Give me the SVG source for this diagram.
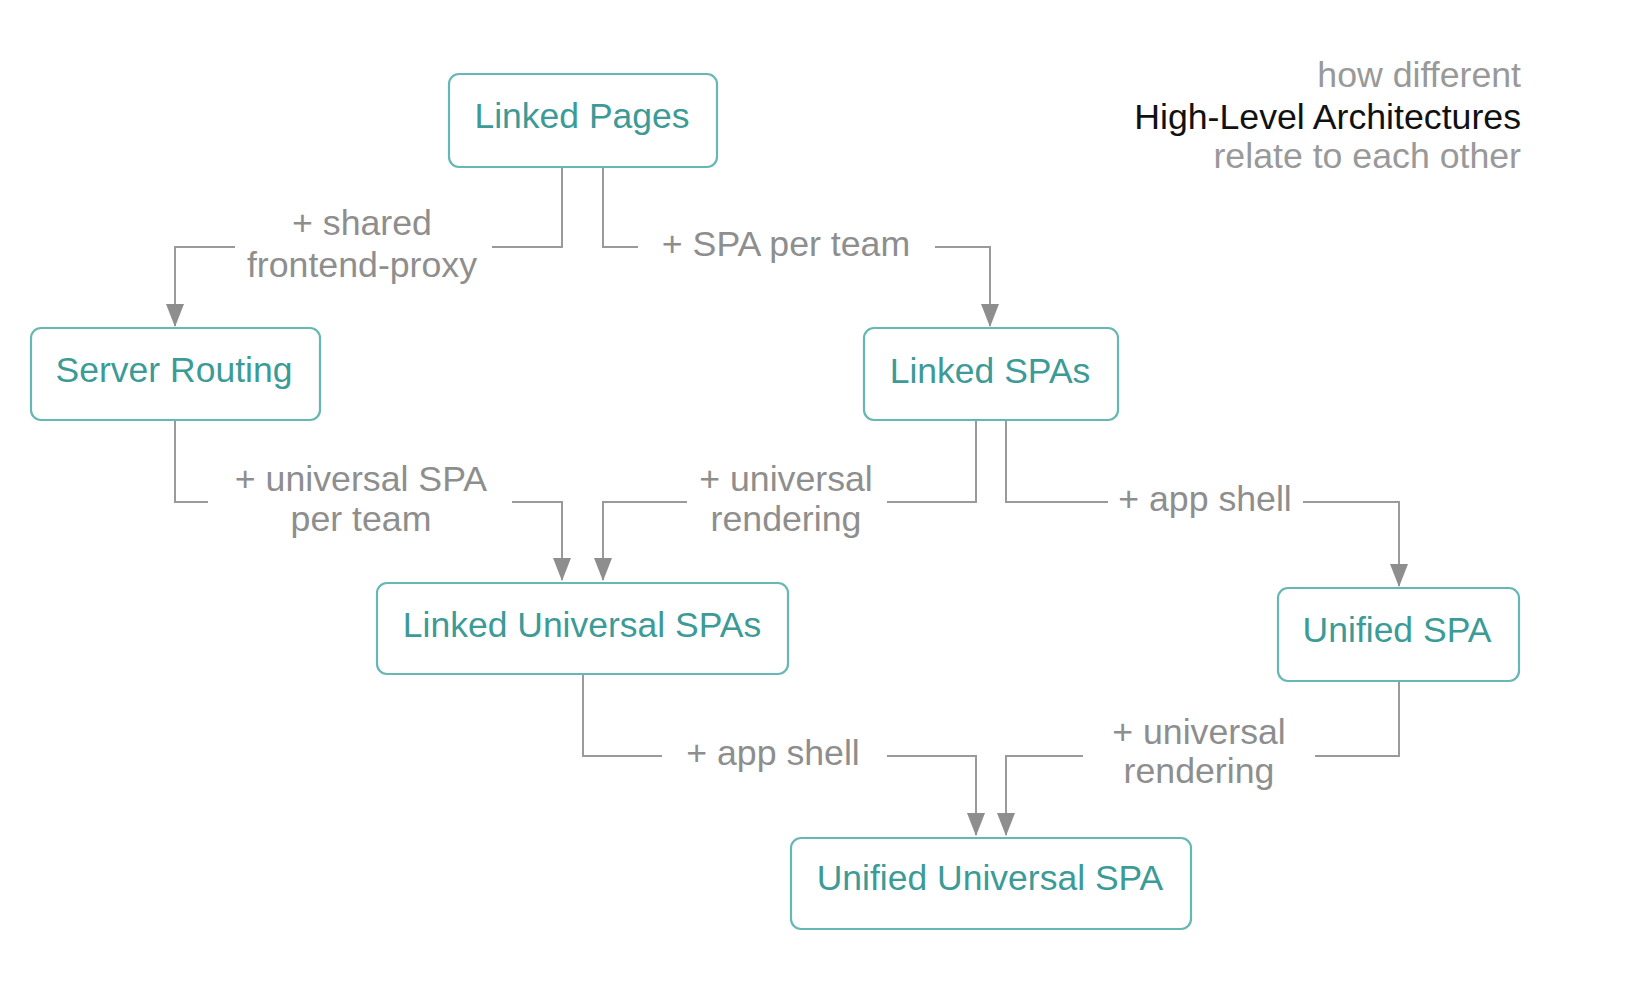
<svg xmlns="http://www.w3.org/2000/svg" width="1632" height="982" viewBox="0 0 1632 982">
<style>
.box{fill:#fff;stroke:#66b8b4;stroke-width:2.2}
.nt{font-family:"Liberation Sans",Arial,sans-serif;font-size:35.5px;fill:#3c9b97;text-anchor:middle}
.lbl{font-family:"Liberation Sans",Arial,sans-serif;font-size:35.7px;fill:#8e8e8e;text-anchor:middle}
.edge{fill:none;stroke:#9a9a9a;stroke-width:2;marker-end:url(#arr)}
.tt{font-family:"Liberation Sans",Arial,sans-serif;font-size:35.7px;text-anchor:end}
</style>
<defs>
<marker id="arr" markerUnits="userSpaceOnUse" markerWidth="23" markerHeight="18" viewBox="0 0 23 18" refX="22" refY="9" orient="auto">
<path d="M0,0 L23,9 L0,18 z" fill="#8e8e8e"/>
</marker>
</defs>
<rect width="1632" height="982" fill="#fff"/>
<g id="title">
<text class="tt" x="1521" y="87" fill="#999">how different</text>
<text class="tt" x="1521" y="129" fill="#111">High-Level Architectures</text>
<text class="tt" x="1521" y="168" fill="#999">relate to each other</text>
</g>
<g id="connectors">
<path class="edge" d="M562,167 V247 H492 M235,247 H175 V326"/>
<path class="edge" d="M603,167 V247 H638 M935,247 H990 V326"/>
<path class="edge" d="M175,420 V502 H208 M512,502 H562 V580"/>
<path class="edge" d="M976,420 V502 H887 M687,502 H603 V580"/>
<path class="edge" d="M1006,420 V502 H1108 M1303,502 H1399 V586"/>
<path class="edge" d="M583,674 V756 H662 M887,756 H976 V835"/>
<path class="edge" d="M1399,681 V756 H1315 M1083,756 H1006 V835"/>
<text class="lbl" x="362" y="235">+ shared</text>
<text class="lbl" x="362" y="277">frontend-proxy</text>
<text class="lbl" x="786" y="256">+ SPA per team</text>
<text class="lbl" x="361" y="491">+ universal SPA</text>
<text class="lbl" x="361" y="531">per team</text>
<text class="lbl" x="786" y="491">+ universal</text>
<text class="lbl" x="786" y="531">rendering</text>
<text class="lbl" x="1205" y="511">+ app shell</text>
<text class="lbl" x="773" y="765">+ app shell</text>
<text class="lbl" x="1199" y="744">+ universal</text>
<text class="lbl" x="1199" y="783">rendering</text>
</g>
<g id="linked-pages">
<rect class="box" x="449" y="74" width="268" height="93" rx="10"/>
<text class="nt" x="582" y="128">Linked Pages</text>
</g>
<g id="server-routing">
<rect class="box" x="31" y="328" width="289" height="92" rx="10"/>
<text class="nt" x="174" y="382">Server Routing</text>
</g>
<g id="linked-spas">
<rect class="box" x="864" y="328" width="254" height="92" rx="10"/>
<text class="nt" x="990" y="383">Linked SPAs</text>
</g>
<g id="linked-universal-spas">
<rect class="box" x="377" y="583" width="411" height="91" rx="10"/>
<text class="nt" x="582" y="637">Linked Universal SPAs</text>
</g>
<g id="unified-spa">
<rect class="box" x="1278" y="588" width="241" height="93" rx="10"/>
<text class="nt" x="1397" y="642">Unified SPA</text>
</g>
<g id="unified-universal-spa">
<rect class="box" x="791" y="838" width="400" height="91" rx="10"/>
<text class="nt" x="990" y="890">Unified Universal SPA</text>
</g>
</svg>
